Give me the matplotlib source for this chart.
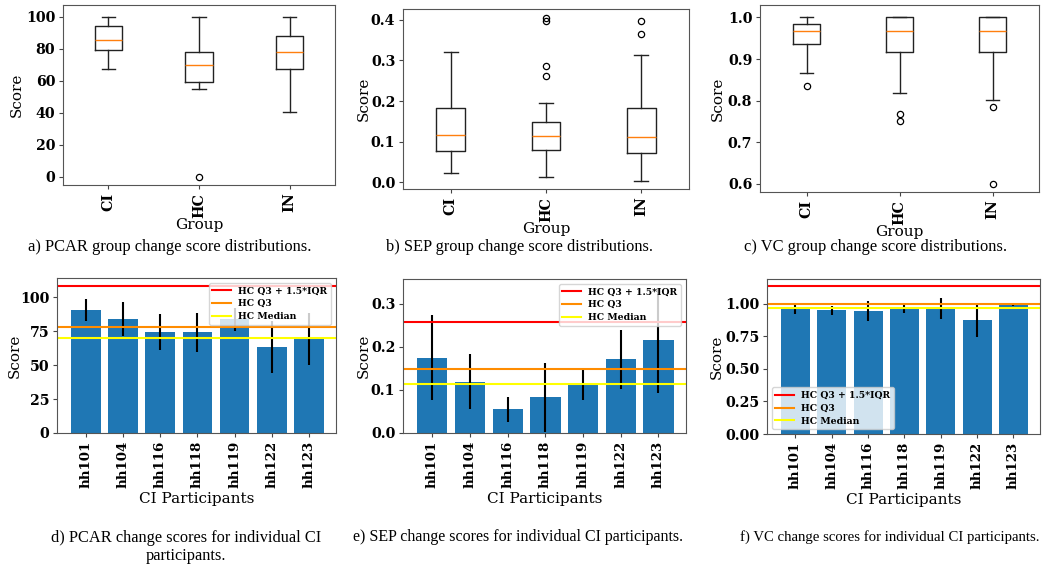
import matplotlib
matplotlib.use("Agg")
import matplotlib.pyplot as plt
import numpy as np

# ---------------- data ----------------
groups = ["CI", "HC", "IN"]

pcar_whislo = [67.7, 55.2, 40.6]
pcar_q1 = [79.6, 59.6, 67.7]
pcar_med = [85.4, 69.8, 78.3]
pcar_q3 = [94.6, 78.3, 87.9]
pcar_whishi = [100.0, 100.0, 100.0]
pcar_fliers = [[], [0.0], []]

sep_whislo = [0.022, 0.013, 0.003]
sep_q1 = [0.077, 0.079, 0.073]
sep_med = [0.116, 0.114, 0.112]
sep_q3 = [0.183, 0.149, 0.183]
sep_whishi = [0.322, 0.194, 0.314]
sep_fliers = [[], [0.262, 0.286, 0.397, 0.405], [0.365, 0.398]]

vc_whislo = [0.867, 0.818, 0.802]
vc_q1 = [0.935, 0.917, 0.917]
vc_med = [0.967, 0.967, 0.967]
vc_q3 = [0.984, 1.0, 1.0]
vc_whishi = [1.0, 1.0, 1.0]
vc_fliers = [[0.834], [0.751, 0.768], [0.784, 0.600]]

participants = ["hh101", "hh104", "hh116", "hh118", "hh119", "hh122", "hh123"]

pcar_means = [90.6, 83.7, 74.4, 74.1, 83.7, 63.5, 69.0]
pcar_err = [8.3, 12.5, 13.0, 14.5, 8.6, 19.2, 19.2]
pcar_hc_lines = [107.8, 78.3, 69.8]

sep_means = [0.175, 0.119, 0.0545, 0.0825, 0.111, 0.171, 0.2145]
sep_err = [0.098, 0.064, 0.030, 0.080, 0.034, 0.068, 0.122]
sep_hc_lines = [0.257, 0.149, 0.1135]

vc_means = [0.960, 0.950, 0.944, 0.964, 0.964, 0.875, 0.993]
vc_err = [0.035, 0.036, 0.075, 0.033, 0.080, 0.130, 0.010]
vc_hc_lines = [1.133, 1.0, 0.967]

line_labels = ["HC Q3 + 1.5*IQR", "HC Q3", "HC Median"]
line_colors = ["red", "darkorange", "yellow"]

captions_top = ["a) PCAR group change score distributions.",
                "b) SEP group change score distributions.",
                "c) VC group change score distributions."]
captions_bottom = ["d) PCAR change scores for individual CI\nparticipants.",
                   "e) SEP change scores for individual CI participants.",
                   "f) VC change scores for individual CI participants."]

# ---------------- figure ----------------
W, H = 1050, 572
fig = plt.figure(figsize=(W / 100, H / 100), dpi=100)


def rect(x0, y0, x1, y1):
    return [x0 / W, (H - y1) / H, (x1 - x0) / W, (y1 - y0) / H]


LABELFONT = dict(family="DejaVu Serif", size=11)


def style_ticks(ax, xsize):
    ax.tick_params(axis="both", length=3, pad=2.5, color="#444444")
    for lab in ax.get_yticklabels():
        lab.set_fontfamily("DejaVu Serif")
        lab.set_fontweight("bold")
        lab.set_fontsize(10.2)
    for lab in ax.get_xticklabels():
        lab.set_fontfamily("DejaVu Serif")
        lab.set_fontweight("bold")
        lab.set_fontsize(xsize)
        lab.set_rotation(90)


def place_ylabel(ax, xpix):
    # anchor of the rotated y label at an absolute pixel column
    bbox = ax.get_position()
    x_axes = (xpix / W - bbox.x0) / bbox.width
    ax.yaxis.set_label_coords(x_axes, 0.5)


def box_panel(r, whislo, q1, med, q3, whishi, fliers, ylim, yticks, ylab_x):
    ax = fig.add_axes(r)
    stats = []
    for i, g in enumerate(groups):
        stats.append(dict(label=g, whislo=whislo[i], q1=q1[i], med=med[i],
                          q3=q3[i], whishi=whishi[i], fliers=fliers[i]))
    ax.bxp(stats, positions=[1, 2, 3],
           flierprops=dict(marker="o", markersize=4.5, markerfacecolor="none",
                           markeredgecolor="black", markeredgewidth=0.9),
           medianprops=dict(color="#ff7f0e", linewidth=1.0),
           boxprops=dict(color="#222222", linewidth=1.0),
           whiskerprops=dict(color="#222222", linewidth=1.0),
           capprops=dict(color="#222222", linewidth=1.0))
    ax.set_ylim(*ylim)
    ax.set_yticks(yticks)
    ax.set_xlabel("Group", fontdict=LABELFONT, labelpad=0)
    ax.set_ylabel("Score", fontdict=LABELFONT)
    style_ticks(ax, 10.3)
    place_ylabel(ax, ylab_x)
    for s in ax.spines.values():
        s.set_color("#555555")
    return ax


def bar_panel(r, means, errs, hc_lines, ylim, yticks, legend_loc, ylab_x):
    ax = fig.add_axes(r)
    x = np.arange(len(participants))
    ax.bar(x, means, width=0.8, color="#1f77b4", yerr=errs,
           error_kw=dict(ecolor="black", elinewidth=1.5, capsize=0))
    for v, c, lab in zip(hc_lines, line_colors, line_labels):
        ax.axhline(v, color=c, linewidth=1.5, label=lab)
    ax.set_xticks(x)
    ax.set_xticklabels(participants)
    ax.set_ylim(*ylim)
    ax.set_yticks(yticks)
    ax.set_xlim(-0.78, 6.73)
    ax.set_xlabel("CI Participants", fontdict=LABELFONT, labelpad=3)
    ax.set_ylabel("Score", fontdict=LABELFONT)
    style_ticks(ax, 9.6)
    place_ylabel(ax, ylab_x)
    for s in ax.spines.values():
        s.set_color("#555555")
    ax.legend(loc=legend_loc, prop=dict(family="DejaVu Serif", weight="bold", size=6.7),
              borderpad=0.4, labelspacing=0.4, handlelength=2.0)
    return ax


box_panel(rect(63, 5, 335, 185), pcar_whislo, pcar_q1, pcar_med, pcar_q3,
          pcar_whishi, pcar_fliers, (-5, 107.5), [0, 20, 40, 60, 80, 100], 24)
box_panel(rect(403, 9, 689, 189), sep_whislo, sep_q1, sep_med, sep_q3,
          sep_whishi, sep_fliers, (-0.017, 0.427), [0.0, 0.1, 0.2, 0.3, 0.4], 371)
box_panel(rect(760, 5, 1039, 192), vc_whislo, vc_q1, vc_med, vc_q3,
          vc_whishi, vc_fliers, (0.58, 1.03), [0.6, 0.7, 0.8, 0.9, 1.0], 725)

bar_panel(rect(57, 278, 336, 433), pcar_means, pcar_err, pcar_hc_lines,
          (0, 114), [0, 25, 50, 75, 100], "upper right", 22)
bar_panel(rect(403, 279, 686, 433), sep_means, sep_err, sep_hc_lines,
          (0, 0.357), [0.0, 0.1, 0.2, 0.3], "upper right", 371)
bar_panel(rect(767, 279, 1040, 434), vc_means, vc_err, vc_hc_lines,
          (0, 1.19), [0.0, 0.25, 0.5, 0.75, 1.0], "lower left", 724)

# captions
for txt, cx, sz in zip(captions_top, [170, 519, 876], [11.9, 11.8, 11.9]):
    fig.text(cx / W, 1 - 247 / H, txt, ha="center", va="center",
             family="Liberation Serif", size=sz)
fig.text(186 / W, 1 - 547 / H, captions_bottom[0], ha="center", va="center",
         linespacing=1.2, family="Liberation Serif", size=11.8)
fig.text(518 / W, 1 - 537 / H, captions_bottom[1], ha="center", va="center",
         family="Liberation Serif", size=11.5)
fig.text(890 / W, 1 - 537 / H, captions_bottom[2], ha="center", va="center",
         family="Liberation Serif", size=10.6)

fig.savefig("out.png", dpi=100)
